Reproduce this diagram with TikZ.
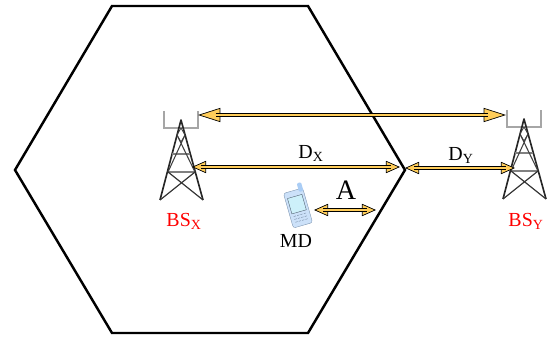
\documentclass[tikz,border=0pt]{standalone}
\usepackage{fontspec}
\setmainfont{Liberation Serif}
\usetikzlibrary{arrows.meta, positioning, calc}
\definecolor{tipyellow}{RGB}{255,205,90}
\definecolor{phoneblue}{RGB}{170,205,245}
\definecolor{screenblue}{RGB}{205,240,250}
\tikzset{
    shaft/.style={line width=0.75pt, double=tipyellow, double distance=1.1pt},
    bigtips/.style={line width=0.75pt,
        {Triangle[length=19pt, width=12pt, fill=tipyellow, line width=0.6pt]}-{Triangle[length=19pt, width=12pt, fill=tipyellow, line width=0.6pt]}},
    smalltips/.style={line width=0.75pt,
        {Triangle[length=12pt, width=10.5pt, fill=tipyellow, line width=0.6pt]}-{Triangle[length=12pt, width=10.5pt, fill=tipyellow, line width=0.6pt]}},
    label/.style={inner sep=0pt, font=\fontsize{17}{17}\selectfont},
    bslabel/.style={label, text=red},
    pics/tower/.style={code={
        % Antenna bracket
        \draw[gray!70, line width=0.9pt] (-17,-9) -- (-17,8) -- (17,8) -- (17,-9);
        % Legs
        \draw[black!85, line width=1.4pt, line join=round] (-21,80) -- (0,0) -- (22,80);
        \draw[black!75, line width=0.7pt] (-4,15) -- (0,8) -- (4,15) -- (0,22) -- cycle;
        % Lattice
        \draw[gray, line width=1pt] (-9,34) -- (9,34) (-13,52) -- (14,52);
        \draw[black!75, line width=0.9pt] (-4,15) -- (14,52) (4,15) -- (-13,52);
        \draw[black!80, line width=1pt] (-13,52) -- (22,80) (14,52) -- (-21,80);
    }}
}
\begin{document}
\begin{tikzpicture}[x=0.03cm, y=-0.03cm]
    \useasboundingbox (0,0) rectangle (549,338);

    % Cell boundary
    \draw[line width=2.1pt, line join=miter] (15,170) -- (112,6) -- (308,6) -- (405,170) -- (308,333) -- (112,333) -- cycle;

    % Base stations
    \pic at (181,120) {tower};
    \pic at (524,119) {tower};
    \node[bslabel] (bsx) at (184,221) {BS\textsubscript{X}};
    \node[bslabel] (bsy) at (526,221) {BS\textsubscript{Y}};

    % Arrow ends
    \coordinate (topl) at (198,115);
    \coordinate (topr) at (506,115);
    \coordinate (dxl) at (192,167);
    \coordinate (dxr) at (400,167);
    \coordinate (dyl) at (405,168);
    \coordinate (dyr) at (515,168);
    \coordinate (al) at (314,210);
    \coordinate (ar) at (376,210);

    % Distance arrows, shaft runs a little into the tips
    \draw[bigtips] (topl) -- (topr);
    \draw[shaft, shorten <=15pt, shorten >=15pt] (topl) -- (topr);
    \foreach \from/\to in {dxl/dxr, dyl/dyr, al/ar} {
        \draw[smalltips] (\from) -- (\to);
        \draw[shaft, shorten <=8pt, shorten >=8pt] (\from) -- (\to);
    }

    % Distance labels
    \node[label] (dx) at (311,153) {D\textsubscript{X}};
    \node[label] (dy) at (461,155) {D\textsubscript{Y}};
    \node[inner sep=0pt, font=\fontsize{24}{24}\selectfont] (a) at (346,190) {A};

    % Mobile device
    \begin{scope}[shift={(298,208)}, rotate=16]
        \fill[phoneblue!60!white, draw=phoneblue!70!black, line width=0.3pt, rounded corners=2pt] (-10,-18) rectangle (10,18);
        \fill[screenblue, draw=phoneblue!40!black, line width=0.3pt] (-7.5,-12) rectangle (7.5,4);
        \fill[phoneblue, rounded corners=1pt] (5.5,-24) rectangle (10,-15);
        \foreach \y in {7,10,13} {
            \draw[phoneblue!60!black, line width=0.3pt, dash pattern=on 2pt off 1pt] (-6.5,\y) -- (6.5,\y);
        }
    \end{scope}
    \node[label] (md) at (296,241) {MD};
\end{tikzpicture}
\end{document}
